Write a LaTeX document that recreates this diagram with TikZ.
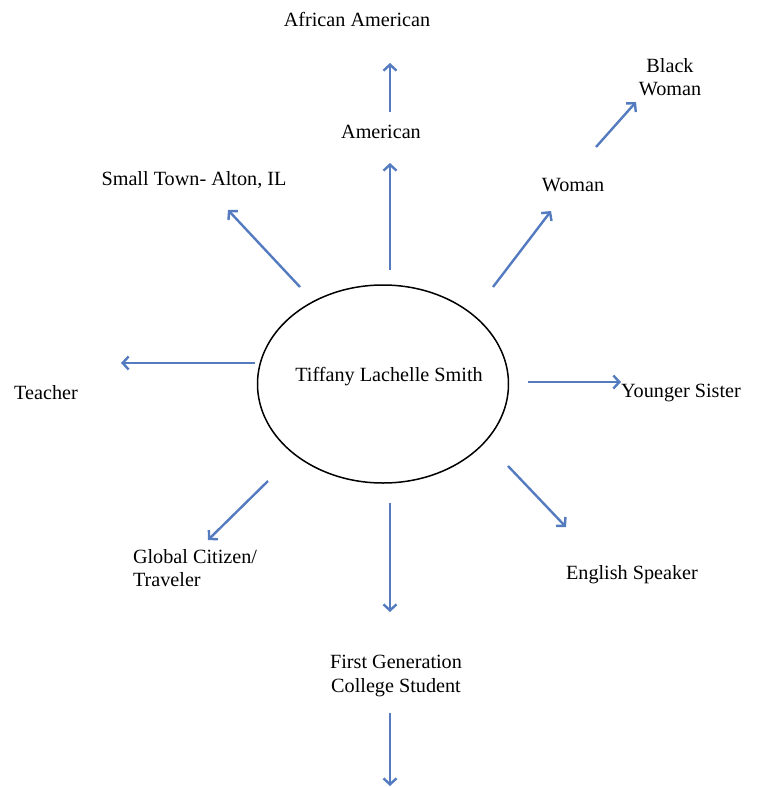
\documentclass[tikz,border=0pt]{standalone}
\usepackage{fontspec}
\setmainfont{Liberation Serif}
\usetikzlibrary{shapes.geometric,arrows.meta}
\definecolor{arrowblue}{RGB}{84,122,192}
\tikzset{>={Straight Barb[length=3pt,width=6.5pt]}}
\tikzset{
  idea/.style = {font=\fontsize{10.1}{11.8}\selectfont, align=center, inner sep=0pt},
  link/.style = {->, arrowblue, line width=1.2pt}
}

\begin{document}
\begin{tikzpicture}[x=0.5pt,y=-0.5pt]
  \useasboundingbox (0,0) rectangle (772,787);
  % centre
  \node[draw, ellipse, line width=0.75pt, minimum width=125.5pt, minimum height=99pt] (self) at (383,384) {};
  \node[idea] (name) at (389,377) {Tiffany Lachelle Smith};
  % labels
  \node[idea] (afram) at (357,19) {African American};
  \node[idea] (amer) at (381,132) {American};
  \node[idea] (bwoman) at (670,77) {Black\\Woman};
  \node[idea] (woman) at (573,185) {Woman};
  \node[idea] (town) at (194,180) {Small Town- Alton, IL};
  \node[idea] (teach) at (46,393) {Teacher};
  \node[idea] (sister) at (681,393) {Younger Sister};
  \node[idea, align=left] (global) at (195,568) {Global Citizen/\\Traveler};
  \node[idea] (english) at (632,575) {English Speaker};
  \node[idea] (firstgen) at (396,676) {First Generation\\College Student};
  % arrow ends
  \coordinate (afram-s) at (390,112);   \coordinate (afram-e) at (390,63);
  \coordinate (amer-s) at (390,270);    \coordinate (amer-e) at (390,163);
  \coordinate (woman-s) at (493,287);   \coordinate (woman-e) at (551,211);
  \coordinate (bwoman-s) at (596,147);  \coordinate (bwoman-e) at (636,102);
  \coordinate (town-s) at (300,287);    \coordinate (town-e) at (228,210);
  \coordinate (teach-s) at (255,363);   \coordinate (teach-e) at (121,363);
  \coordinate (sister-s) at (528,382);  \coordinate (sister-e) at (621,382);
  \coordinate (global-s) at (268,481);  \coordinate (global-e) at (208,540);
  \coordinate (english-s) at (508,466); \coordinate (english-e) at (566,527);
  \coordinate (firstgen-s) at (390,503);\coordinate (firstgen-e) at (390,612);
  \coordinate (below-s) at (390,713);   \coordinate (below-e) at (390,786);
  \foreach \a in {afram,amer,woman,bwoman,town,teach,sister,global,english,firstgen,below}
    \draw[link] (\a-s) -- (\a-e);
\end{tikzpicture}
\end{document}
